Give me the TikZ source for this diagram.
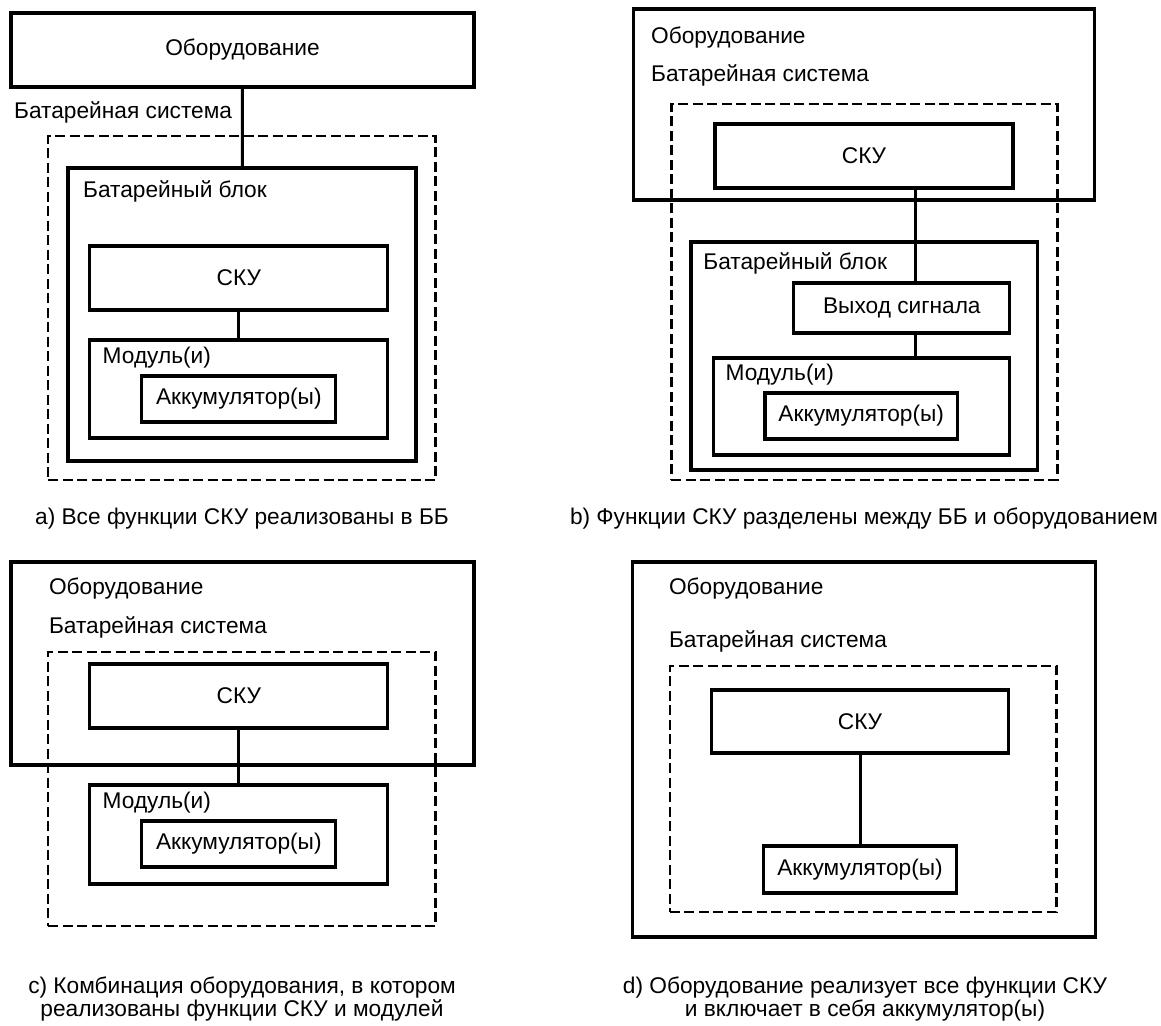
\documentclass[tikz,border=0pt]{standalone}
\usepackage{fontspec}
\setmainfont{Liberation Sans}
\tikzstyle{blk}=[draw, line width=3.2pt, inner sep=0pt, font=\fontsize{22.7}{24}\selectfont]
\tikzstyle{sysbox}=[draw, dash pattern=on 10pt off 4.5pt, line width=2.8pt, inner sep=0pt]
\tikzstyle{lbl}=[anchor=west, inner sep=0pt, font=\fontsize{22.7}{24}\selectfont]
\tikzstyle{capt}=[align=center, inner sep=0pt, font=\fontsize{22.7}{23}\selectfont]
\tikzstyle{conn}=[line width=3pt]
\begin{document}
\begin{tikzpicture}[x=1pt,y=-1pt]
        \useasboundingbox (0,0) rectangle (1161,1025);
        % a)
        \draw (242.5,50) node[blk, minimum width=463, minimum height=74](eqA){Оборудование};
        \draw (14,112) node[lbl](sysA){Батарейная система};
        \draw (241.75,308) node[sysbox, minimum width=387.5, minimum height=344](dashA){};
        \draw (242,314.5) node[blk, minimum width=348, minimum height=293](packA){};
        \draw (83,191) node[lbl](packAl){Батарейный блок};
        \draw (238.8,278) node[blk, minimum width=298, minimum height=64](skuA){СКУ};
        \draw (238.8,389) node[blk, minimum width=298, minimum height=98](modA){};
        \draw (102.5,358) node[lbl](modAl){Модуль(и)};
        \draw (238.8,399) node[blk, minimum width=194, minimum height=46](accA){Аккумулятор(ы)};
        \draw (242,519) node[capt](capA){a) Все функции СКУ реализованы в ББ};
        % b)
        \draw (863.9,104.5) node[blk, minimum width=460.6, minimum height=191](eqB){};
        \draw (651,38) node[lbl](eqBl){Оборудование};
        \draw (651,75) node[lbl](sysB){Батарейная система};
        \draw (864.3,292) node[sysbox, minimum width=385.8, minimum height=376](dashB){};
        \draw (864,156) node[blk, minimum width=298, minimum height=64](skuB){СКУ};
        \draw (864.3,356) node[blk, minimum width=346.6, minimum height=228](packB){};
        \draw (703.2,263) node[lbl](packBl){Батарейный блок};
        \draw (901.85,308) node[blk, minimum width=216, minimum height=50](sigB){Выход сигнала};
        \draw (861.5,406.5) node[blk, minimum width=296.7, minimum height=97](modB){};
        \draw (725.4,375) node[lbl](modBl){Модуль(и)};
        \draw (861.2,416) node[blk, minimum width=192.4, minimum height=46](accB){Аккумулятор(ы)};
        \draw (864,519) node[capt](capB){b) Функции СКУ разделены между ББ и оборудованием};
        % c)
        \draw (242.5,663.5) node[blk, minimum width=463, minimum height=203](eqC){};
        \draw (48.8,589) node[lbl](eqCl){Оборудование};
        \draw (48.8,627) node[lbl](sysC){Батарейная система};
        \draw (241.75,789) node[sysbox, minimum width=387.5, minimum height=274](dashC){};
        \draw (238.8,696) node[blk, minimum width=298, minimum height=64](skuC){СКУ};
        \draw (238.8,834.5) node[blk, minimum width=298, minimum height=99](modC){};
        \draw (102.5,803) node[lbl](modCl){Модуль(и)};
        \draw (238.8,844) node[blk, minimum width=194, minimum height=46](accC){Аккумулятор(ы)};
        \draw (242,999) node[capt](capC){c) Комбинация оборудования, в котором\\реализованы функции СКУ и модулей};
        % d)
        \draw (864.1,749.5) node[blk, minimum width=462.5, minimum height=375](eqD){};
        \draw (668.8,589) node[lbl](eqDl){Оборудование};
        \draw (668.8,641) node[lbl](sysD){Батарейная система};
        \draw (863.2,789) node[sysbox, minimum width=386.6, minimum height=246](dashD){};
        \draw (860,721.5) node[blk, minimum width=297, minimum height=63](skuD){СКУ};
        \draw (860,869.5) node[blk, minimum width=192.7, minimum height=47](accD){Аккумулятор(ы)};
        \draw (865,999) node[capt](capD){d) Оборудование реализует все функции СКУ\\и включает в себя аккумулятор(ы)};
        %
        \path
            (eqA)   edge[conn]  (packA)
            (skuA)  edge[conn]  (modA)
            (skuC)  edge[conn]  (modC)
            (skuD)  edge[conn]  (accD)
        ;
        \draw[conn] ([xshift=13.75]sigB.north) -- ([xshift=13.75]sigB.north |- skuB.south);
        \draw[conn] ([xshift=13.75]sigB.south) -- ([xshift=13.75]sigB.south |- modB.north);
\end{tikzpicture}
\end{document}
